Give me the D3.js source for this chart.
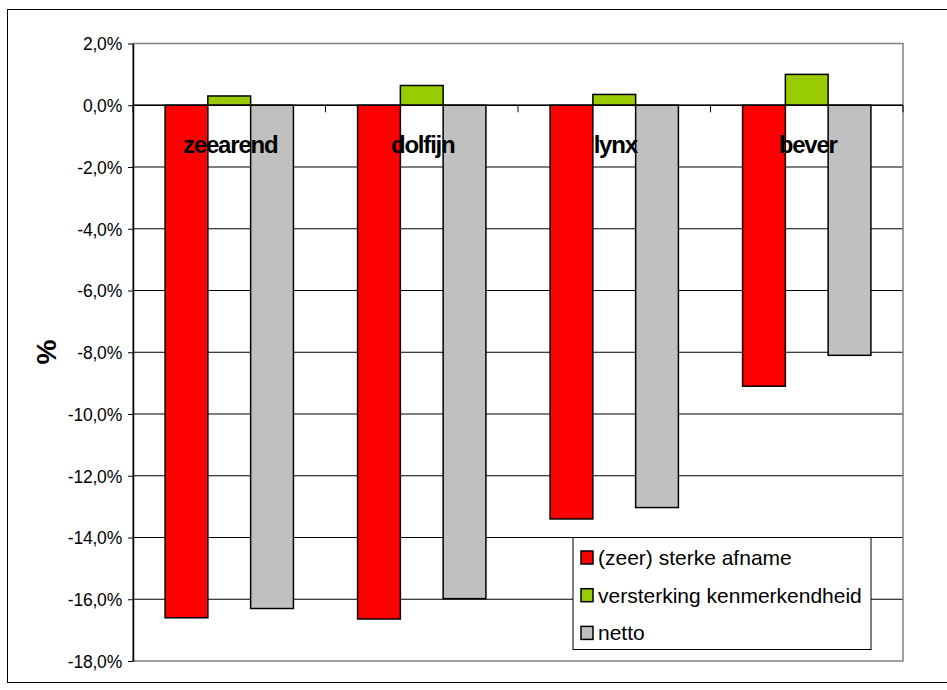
<!DOCTYPE html>
<html>
<head>
<meta charset="utf-8">
<script src="https://cdn.jsdelivr.net/npm/d3@7"></script>
<style>
html,body{margin:0;padding:0;background:#fff;}
svg{display:block;font-family:"Liberation Sans",Arial,sans-serif;}
</style>
</head>
<body>
<svg id="chart" width="947" height="690"></svg>
<script>
const categories = ["zeearend", "dolfijn", "lynx", "bever"];
const seriesNames = ["(zeer) sterke afname", "versterking kenmerkendheid", "netto"];
const afname = [-16.6, -16.64, -13.4, -9.1];
const versterking = [0.3, 0.64, 0.35, 1.0];
const netto = [-16.3, -15.98, -13.03, -8.1];
const colors = ["#FF0000", "#99CC00", "#C0C0C0"];
const yTicks = [2, 0, -2, -4, -6, -8, -10, -12, -14, -16, -18];

const seriesValues = [afname, versterking, netto];

const svg = d3.select("#chart");
const plotLeft = 133, plotRight = 903, plotTop = 43.5, plotBottom = 661;

// outer chart border
svg.append("rect").attr("x", 7.5).attr("y", 9.5).attr("width", 945).attr("height", 673)
  .attr("fill", "#fff").attr("stroke", "#000").attr("stroke-width", 1);

const y = d3.scaleLinear().domain([-18, 2]).range([plotBottom, plotTop]);
const x0 = d3.scaleBand().domain(categories).range([plotLeft, plotRight]).paddingInner(0).paddingOuter(0);
const x1 = d3.scaleBand().domain(d3.range(3)).range([0, x0.bandwidth()]).paddingInner(0).paddingOuter(0.75);

const loc = d3.formatLocale({decimal: ",", thousands: ".", grouping: [3], currency: ["", "€"], minus: "-"});
const fmt = v => loc.format(".1f")(v) + "%";

// gridlines
svg.append("g").selectAll("line").data(yTicks.filter(t => t !== 2 && t !== -18)).join("line")
  .attr("x1", plotLeft).attr("x2", plotRight)
  .attr("y1", d => y(d)).attr("y2", d => y(d))
  .attr("stroke", "#000").attr("stroke-width", 1);

// plot border
svg.append("rect").attr("x", plotLeft).attr("y", plotTop).attr("width", plotRight - plotLeft).attr("height", plotBottom - plotTop)
  .attr("fill", "none").attr("stroke", "#808080").attr("stroke-width", 1.5);

// bars
const groups = svg.append("g").selectAll("g").data(categories).join("g")
  .attr("transform", d => `translate(${x0(d)},0)`);
groups.selectAll("rect").data((d, i) => seriesValues.map((s, k) => ({k, v: s[i]}))).join("rect")
  .attr("x", d => x1(d.k))
  .attr("width", x1.bandwidth())
  .attr("y", d => y(Math.max(0, d.v)))
  .attr("height", d => Math.abs(y(d.v) - y(0)))
  .attr("fill", d => colors[d.k])
  .attr("stroke", "#000").attr("stroke-width", 1.5);

// y axis
const yAxis = d3.axisLeft(y).tickValues(yTicks).tickFormat(fmt).tickSize(5).tickSizeOuter(0);
const ga = svg.append("g").attr("transform", `translate(${plotLeft},0)`).call(yAxis);
ga.select(".domain").attr("stroke", "#000").attr("stroke-width", 1.5);
ga.selectAll(".tick line").attr("stroke", "#000");
ga.selectAll(".tick text").attr("font-family", "Liberation Sans, Arial, sans-serif")
  .attr("font-size", 17.5).attr("fill", "#000").attr("x", -11).attr("dy", "0.36em")
  .style("letter-spacing", "-0.2px");

// category axis at zero
svg.append("line").attr("x1", plotLeft).attr("x2", plotRight).attr("y1", y(0)).attr("y2", y(0))
  .attr("stroke", "#000").attr("stroke-width", 1.5);
const boundaries = categories.map(c => x0(c)).concat([plotRight]);
svg.append("g").selectAll("line").data(boundaries).join("line")
  .attr("x1", d => d).attr("x2", d => d)
  .attr("y1", y(0)).attr("y2", y(0) + 7)
  .attr("stroke", "#000").attr("stroke-width", 1);

// category labels
svg.append("g").selectAll("text").data(categories).join("text")
  .attr("x", d => x0(d) + x0.bandwidth() / 2 + 1)
  .attr("y", 153)
  .attr("text-anchor", "middle")
  .attr("font-size", 24).attr("font-weight", "bold")
  .style("letter-spacing", "-1.2px")
  .attr("fill", "#000")
  .text(d => d);

// y label
svg.append("text").attr("transform", "translate(56,352) rotate(-90)")
  .attr("text-anchor", "middle").attr("font-size", 28).attr("font-weight", "bold")
  .text("%");

// legend
const lg = svg.append("g").attr("transform", "translate(573,537.5)");
lg.append("rect").attr("width", 298).attr("height", 112).attr("fill", "#fff")
  .attr("stroke", "#000").attr("stroke-width", 1);
const items = lg.selectAll("g").data(seriesNames).join("g")
  .attr("transform", (d, i) => `translate(0,${20 + i * 37.7})`);
items.append("rect").attr("x", 8).attr("y", -6.5).attr("width", 12).attr("height", 13)
  .attr("fill", (d, i) => colors[i]).attr("stroke", "#000").attr("stroke-width", 1.5);
items.append("text").attr("x", 25).attr("y", 0).attr("dy", "0.36em")
  .attr("font-size", 21).text(d => d);
</script>
</body>
</html>
